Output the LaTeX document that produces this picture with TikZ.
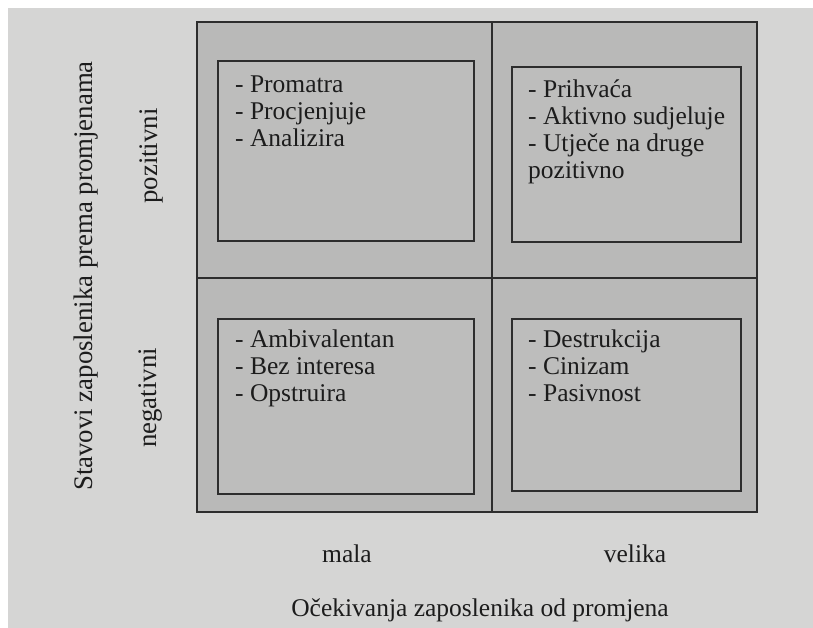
\documentclass[tikz,border=0pt]{standalone}
\usepackage{fontspec}
\setmainfont{Liberation Serif}
\definecolor{pagec}{RGB}{213,213,212}
\definecolor{gridc}{RGB}{185,185,184}
\definecolor{boxc}{RGB}{189,189,188}
\definecolor{linec}{RGB}{45,45,45}
\definecolor{inkc}{RGB}{28,28,28}
\begin{document}
\begin{tikzpicture}[x=1bp,y=-1bp,
  gridline/.style={draw=linec,line width=1.9bp},
  itembox/.style={draw=linec,fill=boxc,line width=1.9bp,rectangle,inner sep=0pt,anchor=north west},
  itemtext/.style={anchor=north west,inner sep=0pt,align=left,text=inkc,font=\fontsize{25.5bp}{27bp}\selectfont},
  axislabel/.style={inner sep=0pt,text=inkc,font=\fontsize{26.8bp}{28bp}\selectfont},
  ticklabel/.style={inner sep=0pt,anchor=base,text=inkc,font=\fontsize{25.5bp}{28bp}\selectfont}]
\useasboundingbox (0,0) rectangle (813,628);
\fill[white] (0,0) rectangle (813,628);
\fill[pagec] (8,8) rectangle (813,628);
% grid
\coordinate (gtl) at (197,22);
\coordinate (gbr) at (757,512);
\coordinate (vtop) at (492,22);
\coordinate (vbot) at (492,512);
\coordinate (hl) at (197,278);
\coordinate (hr) at (757,278);
\path[gridline,fill=gridc] (gtl) rectangle (gbr);
\draw[gridline] (vtop) -- (vbot);
\draw[gridline] (hl) -- (hr);
% inner boxes
\node[itembox,minimum width=256bp,minimum height=180bp] (tl) at (217,60) {};
\node[itembox,minimum width=229bp,minimum height=175bp] (tr) at (511,66) {};
\node[itembox,minimum width=256bp,minimum height=175bp] (bl) at (217,318) {};
\node[itembox,minimum width=229bp,minimum height=172bp] (br) at (511,318) {};
% texts
\node[itemtext] (tlt) at (235,75.5) {- Promatra\\- Procjenjuje\\- Analizira};
\node[itemtext] (trt) at (528,79.5) {- Prihvaća\\- Aktivno sudjeluje\\- Utječe na druge\\pozitivno};
\node[itemtext] (blt) at (235,329.5) {- Ambivalentan\\- Bez interesa\\- Opstruira};
\node[itemtext] (brt) at (528,329.5) {- Destrukcija\\- Cinizam\\- Pasivnost};
% axis labels
\node[axislabel,rotate=90] (yax) at (86,276) {Stavovi zaposlenika prema promjenama};
\node[axislabel,rotate=90] (pos) at (151,156) {pozitivni};
\node[axislabel,rotate=90] (neg) at (151,398) {negativni};
\node[ticklabel] (mala) at (347,562) {mala};
\node[ticklabel] (velika) at (635,562) {velika};
\node[ticklabel] (xax) at (480,616) {Očekivanja zaposlenika od promjena};
\end{tikzpicture}
\end{document}
